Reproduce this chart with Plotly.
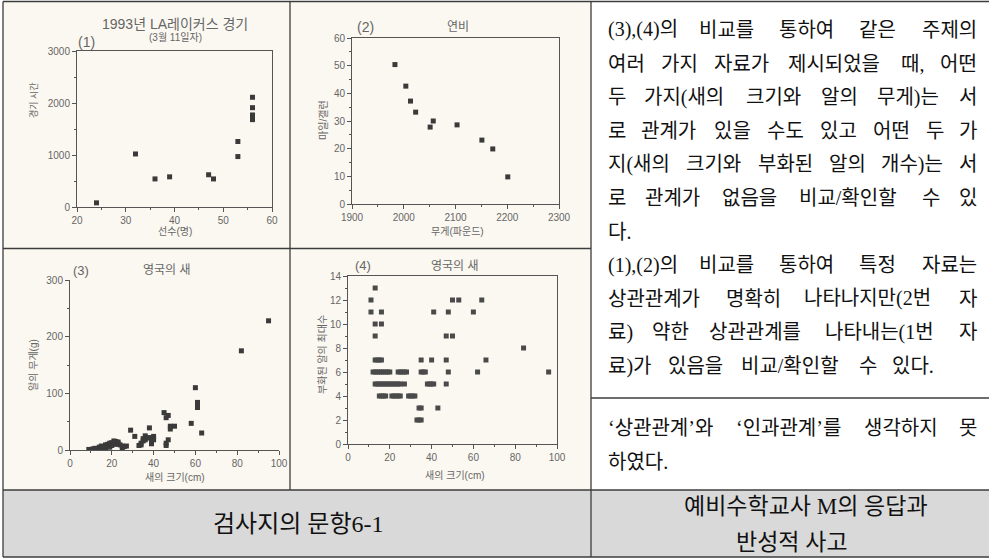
import plotly.graph_objects as go

W, H = 989, 558

# ---------------- data ----------------
# (1) 1993 LA Lakers game (Mar 11): players vs minutes
players = [24, 32, 36, 39, 47, 48, 53, 53, 56, 56, 56, 56, 56]
game_minutes = [80, 1020, 540, 580, 620, 540, 970, 1260, 2110, 1910, 1770, 1720, 1680]

# (2) fuel efficiency: weight (lb) vs miles per gallon
car_weight = [1983, 2004, 2013, 2023, 2051, 2057, 2103, 2151, 2172, 2201]
car_mpg = [50.4, 42.6, 37.2, 33.2, 27.8, 30.0, 28.6, 23.1, 19.9, 9.8]

# (3) British birds: bird size (cm) vs egg weight (g)
bird_size_w = [9, 11, 12, 13, 14, 15, 15, 16, 17, 17, 18, 18, 19, 19, 20, 20, 21, 21, 22, 22,
               23, 23, 24, 25, 25, 26, 27,
               29, 31, 33, 34, 34, 35, 35, 36, 36, 37, 38, 38, 39, 39, 40, 40,
               45, 46, 46, 46, 47, 47, 48, 48, 50,
               58, 60, 61, 61, 61, 63, 82, 95]
egg_weight = [1, 2, 3, 2, 5, 3, 7, 6, 4, 9, 10, 6, 5, 12, 8, 13, 11, 16, 10, 15,
              14, 12, 9, 4, 7, 6, 7,
              35, 24, 8, 12, 9, 20, 16, 25, 18, 21, 39, 22, 14, 11, 24, 18,
              66, 57, 12, 8, 61, 18, 42, 37, 42,
              47, 110, 84, 79, 75, 30, 175, 228]

# (4) British birds: bird size (cm) vs max number of hatched eggs
bird_size_n = [13,
               11, 50, 53, 64,
               11, 16, 41, 48, 60,
               13, 16,
               13, 47, 50,
               84,
               13, 14, 15, 16, 35, 40, 47, 66,
               12, 13, 14, 15, 16, 17, 18, 19, 20, 24, 25, 26, 27, 28, 35, 36, 37, 48, 62, 96,
               13, 14, 15, 16, 17, 18, 19, 20, 21, 22, 23, 24, 25, 27, 38, 39, 40, 41, 47,
               15, 16, 17, 18, 21, 22, 23, 24, 25, 29, 30, 31, 32,
               34, 35, 43,
               33, 34, 35]
max_eggs = [13,
            12, 12, 12, 12,
            11, 11, 11, 11, 11,
            10, 10,
            9, 9, 9,
            8,
            7, 7, 7, 7, 7, 7, 7, 7,
            6, 6, 6, 6, 6, 6, 6, 6, 6, 6, 6, 6, 6, 6, 6, 6, 6, 6, 6, 6,
            5, 5, 5, 5, 5, 5, 5, 5, 5, 5, 5, 5, 5, 5, 5, 5, 5, 5, 5,
            4, 4, 4, 4, 4, 4, 4, 4, 4, 4, 4, 4, 4,
            3, 3, 3,
            2, 2, 2]

# right-hand column text (line breaks as in the original table)
para_lines = [
    "(3),(4)의 비교를 통하여 같은 주제의",
    "여러 가지 자료가 제시되었을 때, 어떤",
    "두 가지(새의 크기와 알의 무게)는 서",
    "로 관계가 있을 수도 있고 어떤 두 가",
    "지(새의 크기와 부화된 알의 개수)는 서",
    "로 관계가 없음을 비교/확인할 수 있",
    "다.",
    "(1),(2)의 비교를 통하여 특정 자료는",
    "상관관계가 명확히 나타나지만(2번 자",
    "료) 약한 상관관계를 나타내는(1번 자",
    "료)가 있음을 비교/확인할 수 있다.",
]
para_justified = [True, True, True, True, True, True, False, True, True, True, False]
cell2_lines = ["‘상관관계’와 ‘인과관계’를 생각하지 못", "하였다."]
cell2_justified = [True, False]

# ---------------- helpers ----------------
SANS = "Liberation Sans, Noto Sans CJK KR, sans-serif"
SERIF = "Liberation Serif, Noto Sans CJK KR, serif"
AX = "#555555"
TXT = "#666666"
MARK = "#3a3a3a"


def px(x):
    return x / W


def py(y):
    return 1 - y / H


def axis(x0, x1, rng, dtick, minor, mirror, anchor):
    return dict(domain=[px(x0), px(x1)], range=rng, tickmode="linear", tick0=rng[0], dtick=dtick,
                showline=True, linecolor=AX, linewidth=1, mirror=mirror,
                ticks="outside", ticklen=4, tickwidth=1, tickcolor=AX,
                minor=dict(ticks="outside", ticklen=2, tickwidth=1, tickcolor=AX,
                           tick0=rng[0], dtick=minor, showgrid=False),
                showgrid=False, zeroline=False, anchor=anchor, fixedrange=True,
                automargin=False,
                tickfont=dict(size=10, color=TXT, family=SANS))


def yaxis(y_top, y_bot, rng, dtick, minor, mirror, anchor):
    d = axis(0, 1, rng, dtick, minor, mirror, anchor)
    d["domain"] = [py(y_bot), py(y_top)]
    return d


fig = go.Figure()
mk = dict(symbol="square", color=MARK, line=dict(width=0))
fig.add_trace(go.Scatter(x=players, y=game_minutes, mode="markers", marker=dict(size=5, **mk),
                         xaxis="x", yaxis="y", showlegend=False, hoverinfo="skip"))
fig.add_trace(go.Scatter(x=car_weight, y=car_mpg, mode="markers", marker=dict(size=5, **mk),
                         xaxis="x2", yaxis="y2", showlegend=False, hoverinfo="skip"))
fig.add_trace(go.Scatter(x=bird_size_w, y=egg_weight, mode="markers", marker=dict(size=5, **mk),
                         xaxis="x3", yaxis="y3", showlegend=False, hoverinfo="skip"))
fig.add_trace(go.Scatter(x=bird_size_n, y=max_eggs, mode="markers",
                         marker=dict(size=5, symbol="square", color="#4a4a4a", line=dict(width=0)),
                         xaxis="x4", yaxis="y4", showlegend=False, hoverinfo="skip"))

layout = dict(
    width=W, height=H, margin=dict(l=0, r=0, t=0, b=0, pad=0, autoexpand=False),
    paper_bgcolor="white", plot_bgcolor="rgba(0,0,0,0)", showlegend=False,
    xaxis=axis(77, 272, [20, 60], 10, 5, True, "y"),
    yaxis=yaxis(51, 207, [0, 3000], 1000, 500, True, "x"),
    xaxis2=axis(352, 559, [1900, 2300], 100, 50, True, "y2"),
    yaxis2=yaxis(38, 204, [0, 60], 10, 5, True, "x2"),
    xaxis3=axis(70, 279, [0, 100], 20, 10, False, "y3"),
    yaxis3=yaxis(280, 450, [0, 300], 100, 50, False, "x3"),
    xaxis4=axis(348, 557, [0, 100], 20, 10, True, "y4"),
    yaxis4=yaxis(276, 444, [0, 14], 2, 1, True, "x4"),
)

# ---------------- table cells & borders ----------------
LINE = "#3c3c3c"
shapes = [
    dict(type="rect", x0=px(3), x1=px(591), y0=py(490), y1=py(1.5), fillcolor="#fbf8f1",
         line=dict(width=0), layer="below", xref="paper", yref="paper"),
    dict(type="rect", x0=px(3), x1=px(989), y0=py(557), y1=py(490), fillcolor="#d9d9d9",
         line=dict(width=0), layer="below", xref="paper", yref="paper"),
]
segments = [
    (3, 1.5, 989, 1.5), (3, 1.5, 3, 557), (3, 557, 989, 557),
    (290, 1.5, 290, 490), (591, 1.5, 591, 557),
    (3, 248.5, 591, 248.5), (591, 398, 989, 398), (3, 490, 989, 490),
]
for x0, y0, x1, y1 in segments:
    shapes.append(dict(type="line", x0=px(x0), x1=px(x1), y0=py(y0), y1=py(y1), xref="paper",
                       yref="paper", line=dict(color=LINE, width=1.3), layer="above"))
layout["shapes"] = shapes

ann = []


def label(text, x, y, size, color=TXT, family=SANS, xanchor="center", angle=0):
    ann.append(dict(text=text, x=px(x), y=py(y), xref="paper", yref="paper", showarrow=False,
                    xanchor=xanchor, yanchor="middle", textangle=angle, borderpad=0,
                    font=dict(size=size, color=color, family=family)))


# chart titles / axis titles
label("1993년 LA레이커스 경기", 175, 24, 14)
label("(3월 11일자)", 175, 37, 10)
label("(1)", 86, 42, 14)
label("경기 시간", 33, 100, 9, angle=-90)
label("선수(명)", 175, 231, 10)

label("(2)", 365, 27, 14)
label("연비", 458, 27, 12)
label("마일/갤런", 323, 120, 10, angle=-90)
label("무게(파운드)", 457, 232, 10)

label("(3)", 81, 270, 13)
label("영국의 새", 167, 270, 12)
label("알의 무게(g)", 33, 365, 10, angle=-90)
label("새의 크기(cm)", 175, 477, 10)

label("(4)", 363, 266, 13)
label("영국의 새", 455, 266, 12)
label("부화된 알의 최대수", 322, 355, 10, angle=-90)
label("새의 크기(cm)", 455, 475, 10)

# ---------------- right column: justified text, word by word ----------------
L0, R0 = 607, 978
FS = 20
NARROW = {"(": 0.333, ")": 0.333, ",": 0.25, ".": 0.25, "/": 0.278, "M": 0.889,
          "‘": 0.333, "’": 0.333}


def est_width(word):
    w = 0.0
    for ch in word:
        if ch in NARROW:
            w += NARROW[ch]
        elif ch.isdigit():
            w += 0.5
        else:
            w += 1.0
    return w * FS


def put_line(text, y, justify):
    words = text.split(" ")
    widths = [est_width(w) for w in words]
    if justify and len(words) > 1:
        gap = (R0 - L0 - sum(widths)) / (len(words) - 1)
    else:
        gap = 13
    x = L0
    for i, (w, wd) in enumerate(zip(words, widths)):
        if justify and i == len(words) - 1 and len(words) > 1:
            label(w, R0, y, FS, color="#111111", family=SERIF, xanchor="right")
        else:
            label(w, x, y, FS, color="#111111", family=SERIF, xanchor="left")
        x += wd + gap


for i, (t, j) in enumerate(zip(para_lines, para_justified)):
    put_line(t, 30 + 33.6 * i, j)
for i, (t, j) in enumerate(zip(cell2_lines, cell2_justified)):
    put_line(t, 428.5 + 33.6 * i, j)

label("검사지의 문항6-1", 298, 524, 24, color="#111111", family=SERIF)
label("예비수학교사 M의 응답과", 806, 506, 23, color="#111111", family=SERIF)
label("반성적 사고", 792, 542, 23, color="#111111", family=SERIF)

layout["annotations"] = ann
fig.update_layout(**layout)
fig.write_html(
    "out.html",
    config={"displayModeBar": False},
    post_script="document.documentElement.style.margin='0';document.body.style.margin='0';"
                "document.body.style.overflow='hidden';",
)
